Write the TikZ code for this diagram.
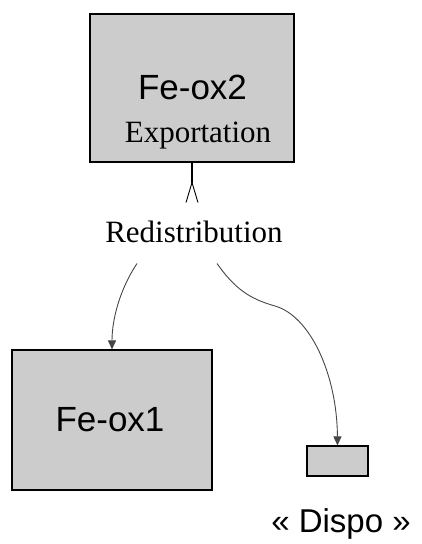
\documentclass[tikz,border=0pt]{standalone}
\usepackage{fontspec}
\setmainfont{Liberation Serif}
\newfontfamily\sansfont{Liberation Sans}
\usepackage{xcolor}
\definecolor{poolgray}{RGB}{204,204,204}
\definecolor{flowgray}{RGB}{70,70,70}
\usepackage{tikz}
\usetikzlibrary{arrows.meta, positioning}

\begin{document}
\begin{tikzpicture}[x=1pt, y=1pt,
  pool/.style={draw=black, line width=1.1pt, fill=poolgray, inner sep=0pt},
  sanslbl/.style={font=\sansfont\fontsize{35}{40}\selectfont, anchor=base, inner sep=0pt},
  seriflbl/.style={font=\fontsize{31}{36}\selectfont, anchor=base, inner sep=0pt},
  flow/.style={draw=flowgray, line width=0.9pt, -{Triangle[length=9pt, width=8pt, fill=flowgray]}}]
\useasboundingbox (0,0) rectangle (422,544);
\node[pool, minimum width=204pt, minimum height=148pt] (feox2) at (192,456) {};
\node[pool, minimum width=200pt, minimum height=140pt] (feox1) at (112,124) {};
\node[pool, minimum width=61pt, minimum height=30pt] (dispobox) at (337.5,83) {};
\node[sanslbl] (feox2lbl) at (192.5,444) {Fe-ox2};
\node[seriflbl] (exportlbl) at (198,401) {Exportation};
\node[seriflbl] (redis) at (194,301) {Redistribution};
\node[sanslbl] (feox1lbl) at (110,112) {Fe-ox1};
\node[sanslbl, font=\sansfont\fontsize{33}{38}\selectfont] (dispolbl) at (341,11) {« Dispo »};
\coordinate (uptail) at (192,341);
\draw[line width=1.1pt, {Straight Barb[reversed, length=20pt, width=12pt, line width=0.9pt]}-] (uptail) -- (feox2.south);
\draw[flow] ([xshift=-57pt, yshift=-20pt]redis.south) .. controls (120,255) and (112,225) .. (feox1.north);
\draw[flow] ([xshift=23pt, yshift=-20pt]redis.south) .. controls (235,255) and (250,245) .. (275,238)
  .. controls (310,228) and (337,170) .. (dispobox.north);
\end{tikzpicture}
\end{document}
